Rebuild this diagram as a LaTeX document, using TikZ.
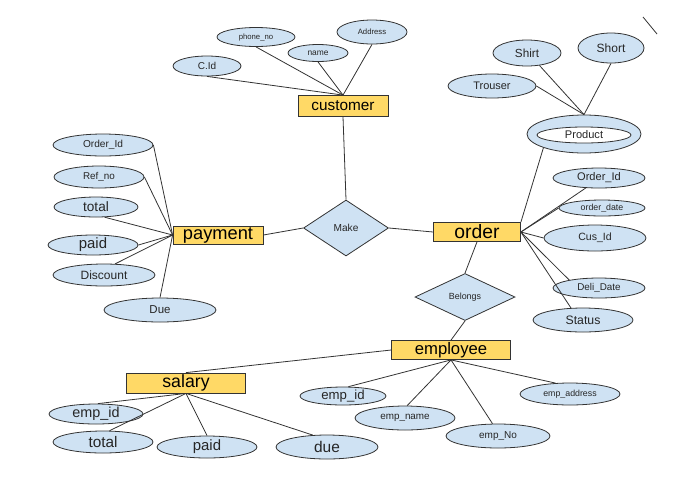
\documentclass[tikz,border=0pt]{standalone}
\usepackage{fontspec}
\setmainfont{Liberation Sans}
\usetikzlibrary{shapes.geometric}

\definecolor{attrblue}{HTML}{CFE2F3}
\definecolor{entyellow}{HTML}{FFD966}
\definecolor{linegray}{HTML}{333333}

\def\px{0.75pt}

\begin{document}
\begin{tikzpicture}[x=0.75pt,y=-0.75pt,line width=0.6pt]
    \tikzset{txt/.style={font=\fontsize{#1}{#1}\selectfont}}
    \tikzstyle{attribute}=[ellipse,draw=linegray,fill=attrblue,inner sep=0pt,text=black!85]
    \tikzstyle{entity}=[rectangle,draw=linegray,fill=entyellow,inner sep=0pt,text=black]
    \tikzstyle{relation}=[diamond,draw=linegray,fill=attrblue,inner sep=0pt,text=black!85]
    \tikzstyle{link}=[draw=linegray]

    \useasboundingbox (0,0) rectangle (673,486);

    % Draw the entities
    \node[entity,minimum width=90*\px,minimum height=21*\px,txt=11.5] (customer) at (343,106) {customer};
    \node[entity,minimum width=90*\px,minimum height=18*\px,txt=13.7] (payment) at (218,235) {payment};
    \node[entity,minimum width=87*\px,minimum height=19*\px,txt=14.5] (order) at (477,232) {order};
    \node[entity,minimum width=119*\px,minimum height=19*\px,txt=12.5] (employee) at (451,350) {employee};
    \node[entity,minimum width=119*\px,minimum height=20*\px,txt=13.3] (salary) at (186,383) {salary};

    % Draw the relations
    \node[relation,minimum width=85*\px,minimum height=56*\px,txt=7.6] (make) at (346,228) {Make};
    \node[relation,minimum width=100*\px,minimum height=47*\px,txt=6.7] (belongs) at (465,297) {Belongs};

    % Product (multivalued attribute)
    \node[attribute,minimum width=114*\px,minimum height=38*\px] (product) at (584,134) {};
    \node[attribute,fill=white,minimum width=94*\px,minimum height=16*\px,txt=8.3] (productin) at (584,135) {Product};

    % Draw the attributes: name / x / y / rx / ry / font size / text
    \foreach \name/\x/\y/\rx/\ry/\s/\label in {
        cid/207/66/34/10/7.5/C.Id,
        phone/256/37/39/9.5/5.8/phone\_no,
        cname/318/53/30/8.5/6.3/name,
        address/372/32/35/12/5.8/Address,
        shirt/527/53/34/13/8.8/Shirt,
        short/611/48/33/15/9/Short,
        trouser/492/86/44/12/8.2/Trouser,
        porderid/103/145/50/11/7.6/Order\_Id,
        refno/99/177/45/11/7.4/Ref\_no,
        ptotal/96/207/42/10/10.2/total,
        ppaid/93/245/45/10/11.2/paid,
        discount/104/275/51/11/9/Discount,
        pdue/160/310/56/12/8.6/Due,
        orderid/599/178/46/10/8.3/Order\_Id,
        orderdate/602/208/43/8/6.6/order\_date,
        cusid/595/238/51/13/7.9/Cus\_Id,
        delidate/599/288/46/10/7.4/Deli\_Date,
        status/583/320/50/12/9.2/Status,
        eempid/343/396/43/9/9.9/emp\_id,
        empname/405/418/50/12/7.4/emp\_name,
        empno/498/436/52/12/7.5/emp\_No,
        empaddress/570/394/50/11/6.6/emp\_address,
        sempid/96/414/47/10/10.8/emp\_id,
        stotal/103/442/50/11/11.5/total,
        spaid/207/447/50/11/11.2/paid,
        sdue/327/447/51/12/11.6/due}
        \node[attribute,minimum width=2*\rx*\px,minimum height=2*\ry*\px,txt=\s] (\name) at (\x,\y) {\label};

    % Connect the customer attributes
    \foreach \source in {cid.south,phone.south,cname.south,address.south}
        \draw[link] (\source) -- (customer.north);

    % Connect the product values
    \foreach \source in {shirt.-45,short.south,trouser.east}
        \draw[link] (\source) -- (product.north);

    % Connect the payment attributes
    \foreach \source in {porderid.east,refno.east,ptotal.-50,ppaid.east,discount.45,pdue.north}
        \draw[link] (\source) -- (payment.west);

    % Connect the order attributes
    \foreach \source in {orderid.217,orderdate.west,cusid.west,delidate.165,status.135}
        \draw[link] (\source) -- (order.east);
    \draw[link] (product.south west) -- (order.north east);

    % Connect the employee attributes
    \foreach \source in {eempid.60,empname.80,empno.114,empaddress.143}
        \draw[link] (\source) -- (employee.south);

    % Connect the salary attributes
    \foreach \source in {sempid.80,stotal.60,spaid.north,sdue.140}
        \draw[link] (\source) -- (salary.south);

    % Relations
    \draw[link] (customer.south) -- (make.north);
    \draw[link] (payment.east) -- (make.west);
    \draw[link] (make.east) -- (order.west);
    \draw[link] (order.south) -- (belongs.north);
    \draw[link] (belongs.south) -- (employee.north);
    \draw[link] (employee.west) -- (salary.north);

    % stray stroke top right
    \coordinate (s1) at (643,17);
    \coordinate (s2) at (657,34);
    \draw[link] (s1) -- (s2);
\end{tikzpicture}
\end{document}
